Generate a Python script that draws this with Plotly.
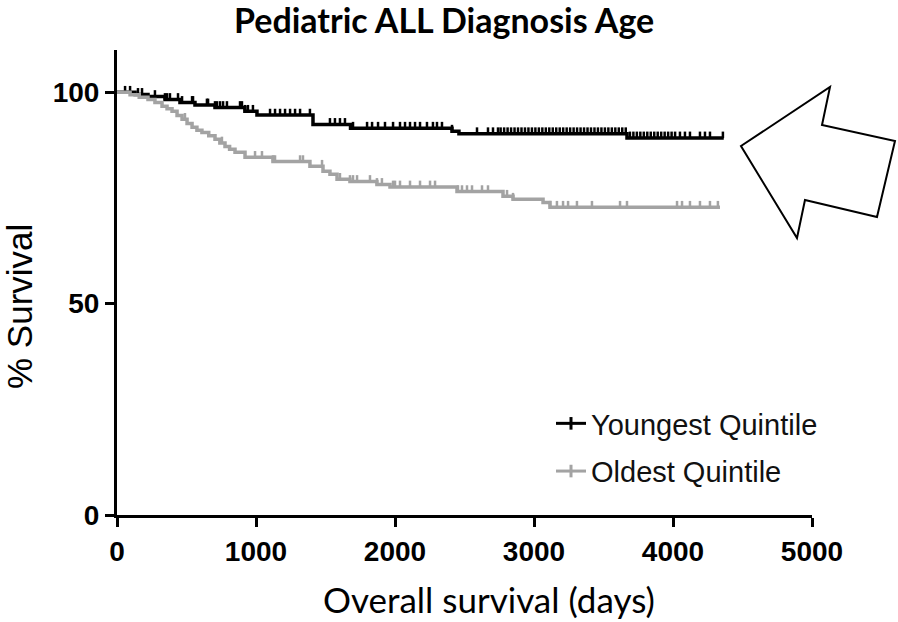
import numpy as np
import plotly.graph_objects as go

# ---------------- data ----------------
title_text = "Pediatric ALL Diagnosis Age"
x_title = "Overall survival (days)"
y_title = "% Survival"
x_ticks = [0, 1000, 2000, 3000, 4000, 5000]
y_ticks = [0, 50, 100]

series_names = ["Youngest Quintile", "Oldest Quintile"]

# Youngest quintile: event times (days) and survival (%) after each step
young_t = [0, 130, 223, 345, 453, 561, 705, 920, 1007, 1410, 1680, 2410, 2460, 3669]
young_s = [100, 99.5, 99.0, 98.3, 97.6, 97.0, 96.4, 95.5, 94.6, 92.4, 91.5, 90.8, 90.2, 89.2]
young_end = 4365
young_cens = [58, 94, 151, 180, 273, 345, 360, 381, 439, 468, 540, 547, 647, 655, 705, 719,
              741, 763, 791, 885, 899, 921, 942, 978, 1101, 1137, 1173, 1209, 1245, 1281,
              1317, 1388, 1532, 1568, 1604, 1640, 1698, 1799, 1835, 1878, 1928, 1986, 2036,
              2072, 2108, 2144, 2180, 2230, 2273, 2302, 2338, 2410, 2590, 2669, 2705, 2741,
              2760, 2785, 2810, 2835, 2860, 2885, 2910, 2935, 2960, 2985, 3010, 3035, 3060,
              3085, 3110, 3135, 3160, 3185, 3210, 3235, 3260, 3285, 3310, 3335, 3360, 3385,
              3410, 3435, 3460, 3485, 3510, 3535, 3560, 3585, 3610, 3635, 3660, 3690, 3715,
              3740, 3765, 3790, 3815, 3840, 3865, 3890, 3915, 3940, 3965, 3990, 4015, 4050,
              4086, 4122, 4194, 4230, 4266, 4359]

# Oldest quintile
old_t = [0, 94, 160, 223, 273, 324, 360, 396, 432, 468, 504, 540, 575, 611, 660, 705, 740,
         777, 810, 849, 921, 1122, 1388, 1482, 1532, 1583, 1676, 1870, 1964, 2446, 2777,
         2849, 3065, 3115]
old_s = [100, 99.4, 98.8, 98.3, 97.6, 96.7, 96.1, 95.5, 94.5, 93.6, 92.6, 91.7, 91.0, 90.5,
         89.7, 88.9, 88.0, 87.2, 86.5, 85.8, 84.6, 83.6, 82.5, 81.3, 80.6, 79.4, 78.9, 78.2,
         77.6, 76.5, 75.4, 74.7, 73.9, 72.8]
old_end = 4338
old_cens = [489, 755, 993, 1043, 1122, 1137, 1317, 1338, 1475, 1604, 1676, 1698, 1727, 1820,
            1870, 1906, 1986, 2000, 2036, 2108, 2180, 2252, 2288, 2453, 2482, 2518, 2554,
            2626, 2669, 2806, 2849, 3115, 3165, 3209, 3245, 3309, 3417, 3619, 3669, 4029,
            4065, 4122, 4194, 4266, 4323]

colors = ["#000000", "#a3a3a3"]


def step_value(ts, ss, x):
    i = np.searchsorted(np.asarray(ts), x, side="right") - 1
    return np.asarray(ss)[np.clip(i, 0, len(ss) - 1)]


fig = go.Figure()

for name, ts, ss, tend, cens, col, grp in [
    (series_names[0], young_t, young_s, young_end, young_cens, colors[0], "y"),
    (series_names[1], old_t, old_s, old_end, old_cens, colors[1], "o"),
]:
    xs = list(ts) + [tend]
    ys = list(ss) + [ss[-1]]
    fig.add_trace(go.Scatter(x=xs, y=ys, mode="lines", line=dict(color=col, width=3.5, shape="hv"),
                             showlegend=False, legendgroup=grp, hoverinfo="skip"))
    cy = step_value(ts, ss, np.asarray(cens))
    fig.add_trace(go.Scatter(x=cens, y=cy, mode="markers",
                             marker=dict(size=1, color=col),
                             error_y=dict(type="constant", value=1.5, symmetric=False, valueminus=0,
                                          color=col, thickness=2.5, width=0),
                             showlegend=False, legendgroup=grp, hoverinfo="skip"))
    # legend entry
    fig.add_trace(go.Scatter(x=[None], y=[None], mode="lines+markers", name=name,
                             line=dict(color=col, width=3),
                             marker=dict(symbol="line-ns-open", size=9, line=dict(color=col, width=3)),
                             legendgroup=grp))

L, R, T, B = 117, 86, 50, 107
W, H = 898, 622
pw, ph = W - L - R, H - T - B


def px2paper(px, py):
    return (px - L) / pw, (H - B - py) / ph


arrow_px = [(741, 146), (830, 87), (822, 125), (895, 141), (877, 217), (805, 200), (797, 238)]
pts = [px2paper(a, b) for a, b in arrow_px]
path = "M " + " L ".join(f"{x:.4f},{y:.4f}" for x, y in pts) + " Z"

fig.update_layout(
    width=W, height=H,
    margin=dict(l=L, r=R, t=T, b=B),
    paper_bgcolor="white", plot_bgcolor="white",
    showlegend=True,
    legend=dict(x=px2paper(551, 0)[0], y=px2paper(0, 398)[1], xanchor="left", yanchor="top",
                font=dict(family="Liberation Sans, Arial", size=29, color="#111"),
                bgcolor="rgba(0,0,0,0)", tracegroupgap=7, itemwidth=30),
    shapes=[dict(type="path", path=path, xref="paper", yref="paper",
                 line=dict(color="black", width=2), fillcolor="white", layer="above")],
    annotations=[
        dict(text=title_text, xref="paper", yref="paper", x=px2paper(444, 0)[0], y=px2paper(0, 19)[1],
             xanchor="center", yanchor="middle", showarrow=False,
             font=dict(family="Lato, Calibri, sans-serif", size=34, color="black", weight="bold")),
        dict(text=x_title, xref="paper", yref="paper", x=px2paper(489, 0)[0], y=px2paper(0, 599)[1],
             xanchor="center", yanchor="middle", showarrow=False,
             font=dict(family="Lato, Calibri, sans-serif", size=35, color="black")),
        dict(text=y_title, xref="paper", yref="paper", x=px2paper(19, 0)[0], y=px2paper(0, 307)[1],
             xanchor="center", yanchor="middle", showarrow=False, textangle=-90,
             font=dict(family="Liberation Sans, Arial", size=35, color="black")),
    ],
)

fig.update_xaxes(range=[0, 5000], tickvals=x_ticks, ticktext=[str(v) for v in x_ticks],
                 showgrid=False, zeroline=False, showline=True, linecolor="black", linewidth=3,
                 ticks="outside", ticklen=9, tickwidth=3, tickcolor="black",
                 tickfont=dict(family="Liberation Sans, Arial", size=28, color="black", weight="bold"))
fig.update_yaxes(range=[0, 110], tickvals=y_ticks, ticktext=[str(v) for v in y_ticks],
                 showgrid=False, zeroline=False, showline=True, linecolor="black", linewidth=3,
                 ticks="outside", ticklen=9, tickwidth=3, tickcolor="black",
                 tickfont=dict(family="Liberation Sans, Arial", size=28, color="black", weight="bold"))

fig.write_html("out.html", config={"displayModeBar": False},
               post_script="document.body.style.margin='0px';")
